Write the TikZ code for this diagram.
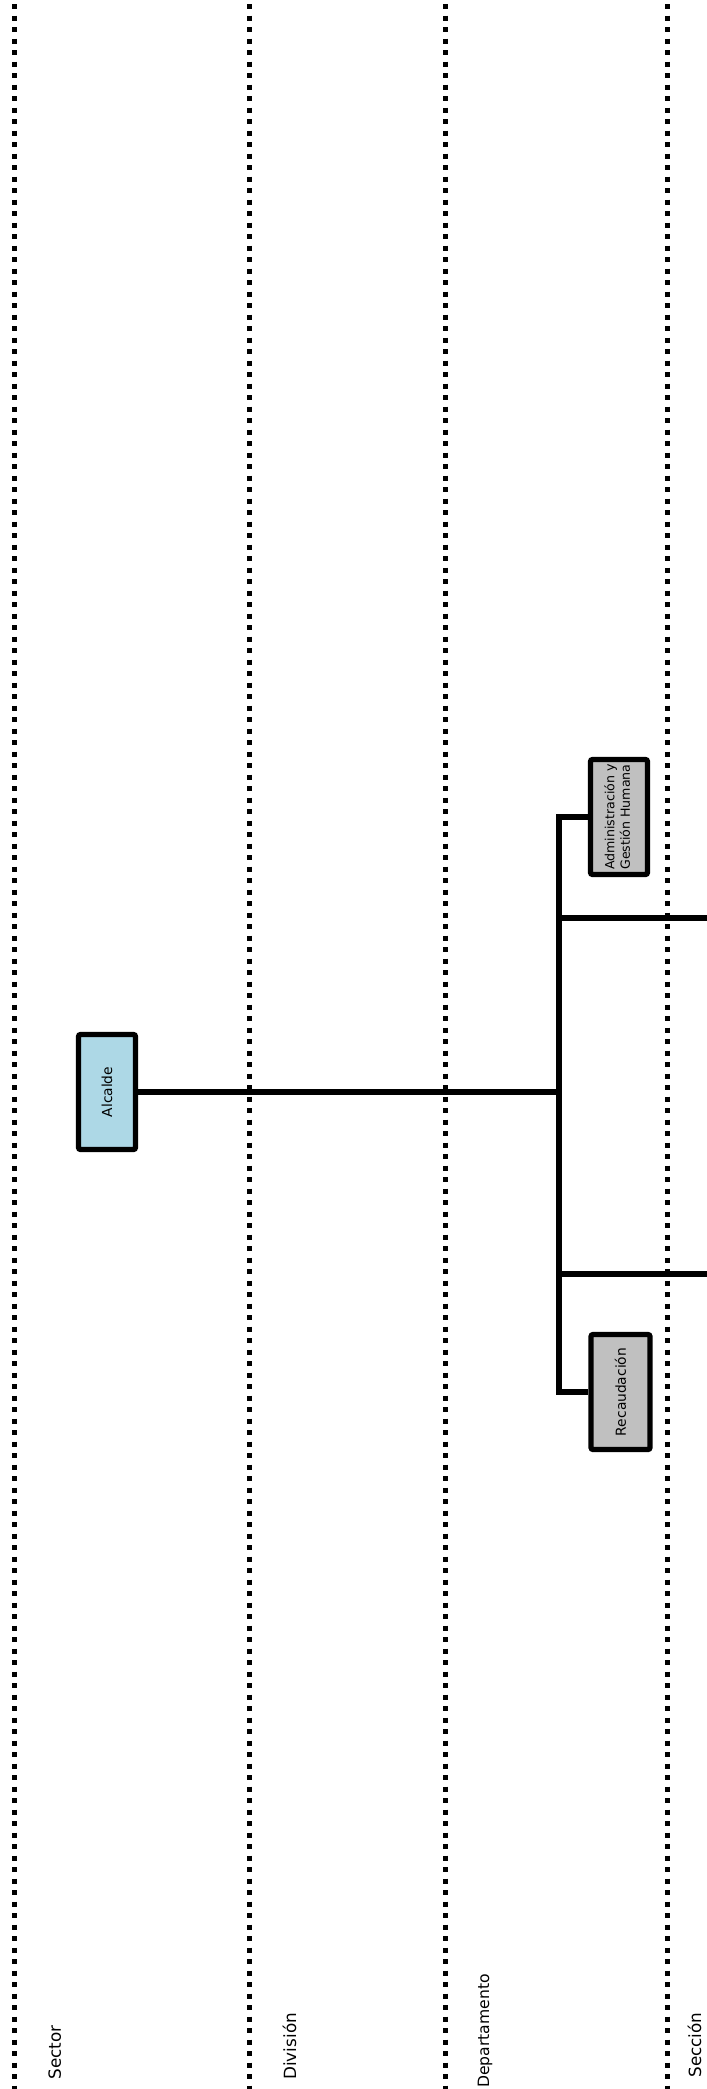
\documentclass[tikz,border=0pt]{standalone}
\usepackage{fontspec}
\setmainfont{DejaVu Sans}
\usepackage{graphicx}
\definecolor{chiefblue}{HTML}{ADD8E6}
\definecolor{officegray}{HTML}{C0C0C0}
\begin{document}
\begin{tikzpicture}[x=0.5pt,y=-0.5pt,
  divider/.style={line width=2.5pt,dash pattern=on 2.5pt off 3.25pt},
  office/.style={draw,fill=officegray,line width=2.6pt,rounded corners=1pt,inner sep=0pt,
    minimum width=28.5pt,minimum height=57.5pt,font=\fontsize{6.9}{7.9}\selectfont},
  chief/.style={office,fill=chiefblue},
  wire/.style={line width=2.6pt},
  tiername/.style={rotate=90,anchor=base west,inner sep=0pt,font=\fontsize{8.4}{10}\selectfont}]
  \useasboundingbox (0,0) rectangle (707,2089);
  \foreach \x in {14,249,445,667}
    \draw[divider] (\x,4) -- (\x,2089);
  \node (alc) [chief] at (107,1092) {\rotatebox{90}{Alcalde}};
  \node (adm) [office,font=\fontsize{6.3}{7.8}\selectfont] at (619,817)
    {\rotatebox{90}{\begin{tabular}{@{}c@{}}Administración y\\Gestión Humana\end{tabular}}};
  \node (rec) [office,minimum width=29.5pt] at (620.5,1392) {\rotatebox{90}{Recaudación}};
  \coordinate (hub) at (559,1092);
  \coordinate (ja) at (559,918);
  \coordinate (ea) at (707,918);
  \coordinate (jb) at (559,1274);
  \coordinate (eb) at (707,1274);
  \draw[wire] (alc) -- (hub);
  \draw[wire] (adm.west) -| (hub) |- (rec.west);
  \draw[wire] (ja) -- (ea);
  \draw[wire] (jb) -- (eb);
  \node (sector) [tiername] at (61,2080) {Sector};
  \node (division) [tiername] at (296,2080) {División};
  \node (depto) [tiername,font=\fontsize{7.8}{9.4}\selectfont] at (489,2088) {Departamento};
  \node (seccion) [tiername] at (701,2078) {Sección};
\end{tikzpicture}
\end{document}
